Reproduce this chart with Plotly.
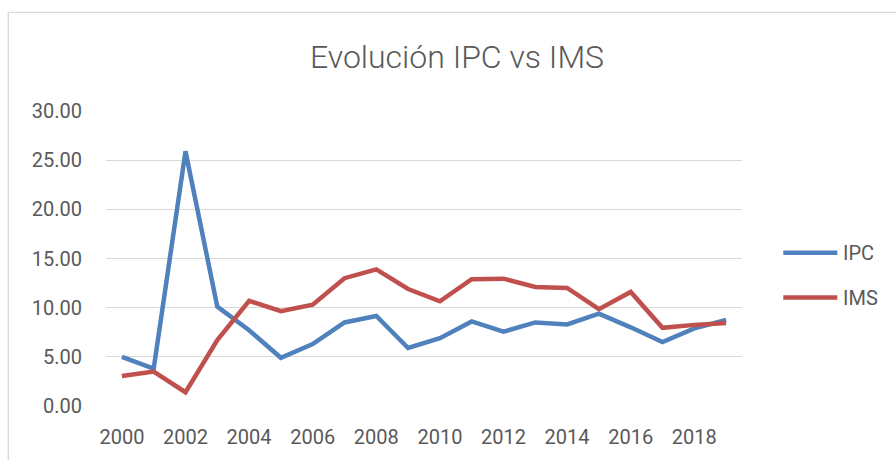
import plotly.graph_objects as go

years = list(range(2000, 2020))
ipc = [5.0, 3.8, 25.9, 10.1, 7.7, 4.9, 6.3, 8.5, 9.15, 5.9,
       6.9, 8.6, 7.55, 8.5, 8.3, 9.4, 8.0, 6.5, 7.9, 8.75]
ims = [3.05, 3.5, 1.4, 6.7, 10.7, 9.65, 10.3, 13.0, 13.9, 11.9,
       10.65, 12.9, 12.95, 12.1, 12.0, 9.85, 11.6, 7.95, 8.25, 8.45]
series_names = ["IPC", "IMS"]
colors = ["#4f81bd", "#c0504d"]
y_ticks = [0, 5, 10, 15, 20, 25, 30]
x_ticks = list(range(2000, 2019, 2))

W, H = 896, 460
L, R, T, B = 105.7, 741.7, 110.7, 406.0

def px(x):
    return (x - L) / (R - L)

def py(y):
    return (B - y) / (B - T)

fig = go.Figure()
for name, vals, col in zip(series_names, [ipc, ims], colors):
    fig.add_trace(go.Scatter(x=years, y=vals, mode="lines", name=name,
                             line=dict(color=col, width=4.5, shape="linear"),
                             showlegend=False, hoverinfo="skip"))

font_fam = "Roboto, 'Open Sans', sans-serif"
txt_col = "#595959"

shapes = [
    dict(type="rect", xref="paper", yref="paper",
         x0=px(8), x1=px(905), y0=py(470), y1=py(12),
         line=dict(color="#d9d9d9", width=1.3), fillcolor="rgba(0,0,0,0)", layer="below"),
]
annotations = []
for i, (name, col) in enumerate(zip(series_names, colors)):
    yy = 252.5 + i * 45
    shapes.append(dict(type="line", xref="paper", yref="paper",
                       x0=px(783), x1=px(837), y0=py(yy), y1=py(yy),
                       line=dict(color=col, width=4.5)))
    annotations.append(dict(xref="paper", yref="paper", x=px(841), y=py(yy),
                            text=name, showarrow=False, xanchor="left", yanchor="middle",
                            font=dict(family=font_fam, size=20, color=txt_col)))

fig.update_layout(
    width=W, height=H,
    margin=dict(l=L, r=W - R, t=T, b=H - B, pad=0),
    paper_bgcolor="white", plot_bgcolor="white",
    title=dict(text="Evolución IPC vs IMS", x=457 / W, xanchor="center",
               y=1 - 57 / H, yanchor="middle",
               font=dict(family=font_fam, size=32, color=txt_col, weight=300)),
    xaxis=dict(range=[1999.5, 2019.5], tickvals=x_ticks, ticktext=[str(v) for v in x_ticks],
               showgrid=False, zeroline=False, showline=False, ticks="",
               ticklabelstandoff=17,
               tickfont=dict(family=font_fam, size=20, color=txt_col)),
    yaxis=dict(range=[0, 30], tickvals=y_ticks, ticktext=[f"{v:.2f}" for v in y_ticks],
               showgrid=True, gridcolor="#d9d9d9", gridwidth=1.3, zeroline=False,
               showline=False, ticks="", ticklabelstandoff=23,
               tickfont=dict(family=font_fam, size=20, color=txt_col)),
    shapes=shapes, annotations=annotations,
    showlegend=False,
)

fig.write_html("out.html", config={"displayModeBar": False},
               post_script="document.body.style.margin='0';document.body.style.overflow='hidden';")
